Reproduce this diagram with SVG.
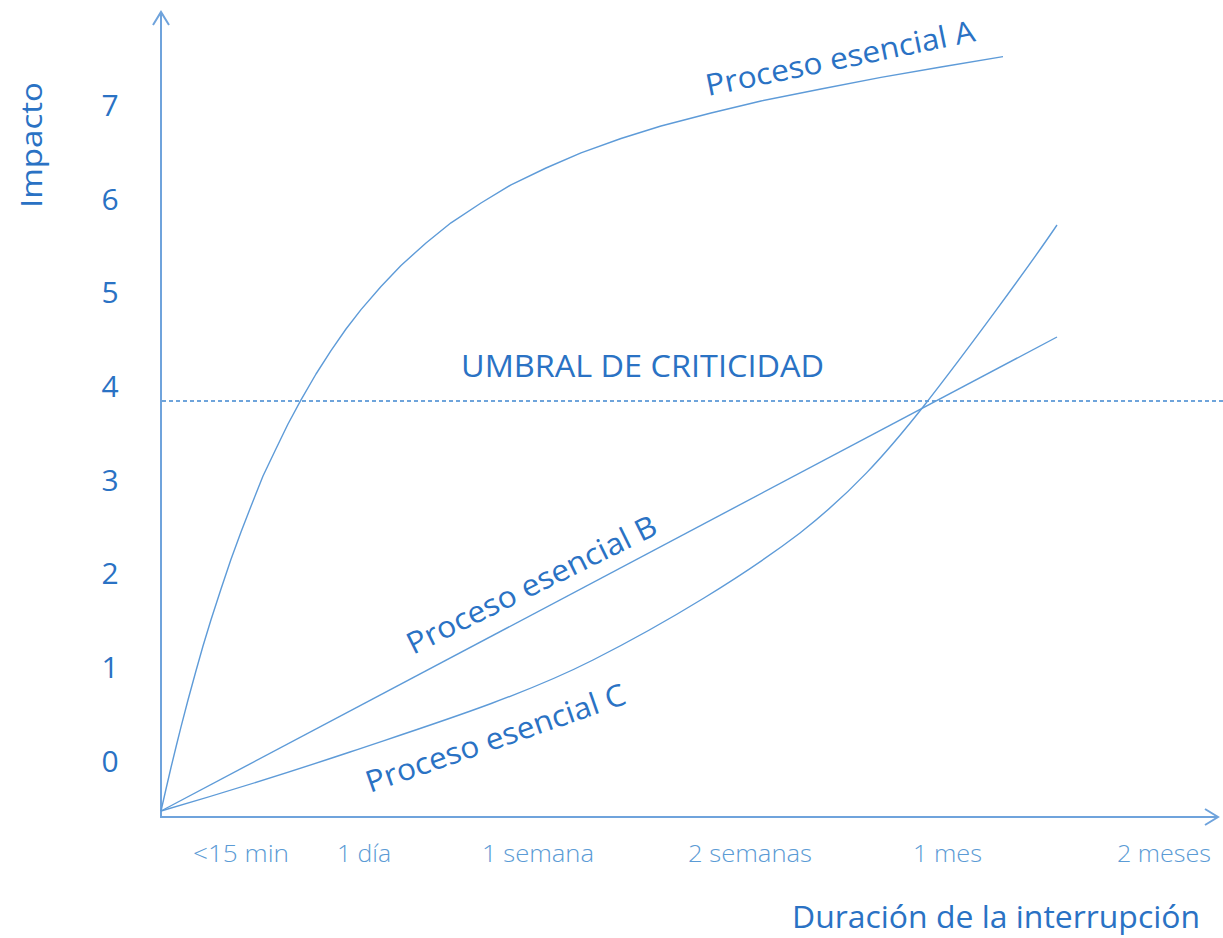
<svg xmlns="http://www.w3.org/2000/svg" width="1223" height="938" viewBox="0 0 1223 938">
<style>
.axis{fill:none;stroke:#6FA3DC;stroke-width:2;}
.curve{fill:none;stroke:#5E9BD8;stroke-width:1.4;stroke-linejoin:round;}
.thr{fill:none;stroke:#3F86D0;stroke-width:1.3;stroke-dasharray:4 3;}
.lbl{font-family:"Open Sans","Noto Sans","Liberation Sans",sans-serif;fill:#2A72C4;}
.num{font-family:"Open Sans","Noto Sans","Liberation Sans",sans-serif;fill:#2A72C4;font-size:30px;text-anchor:middle;}
.tick{font-family:"Open Sans","Noto Sans","Liberation Sans",sans-serif;fill:#5B9BD5;font-size:24px;font-weight:300;}
</style>
<rect width="1223" height="938" fill="#ffffff"/>
<g id="axes">
<path class="axis" d="M161,818 V12 M153,25 L161,12 L169,25"/>
<path class="axis" d="M161,817 H1218 M1205,809 L1218,817 L1205,825"/>
</g>
<g id="connectors">
<path class="thr" d="M162,401 H1223"/>
<path id="curveA" class="curve" d="M161,811 L166,789 L171,767.5 L176,747 L181,726.8 L188,700 L196,670.7 L203,646 L211,619.8 L221,589 L231,559.3 L241,532 L251,506.2 L263,476 L276,448.8 L288,424 L301,399.9 L316,374 L331,350.6 L346,329 L361,309.6 L381,286.5 L401,265.4 L426,243 L451,222.8 L481,203 L511,184.8 L546,168 L581,152.8 L621,138.5 L661,126 L711,113 L761,101 L821,89 L881,77.4 L941,67 L1003,56.6"/>
<path id="curveB" class="curve" d="M161,811 L1057,337"/>
<path id="curveC" class="curve" d="M161,811 C230,791 290,772 350,752 C430,725 520,697 593,660 C668,622 745,575 800,533 C852,492 885,455 923,407 C966,352 1030,265 1057,225"/>
</g>
<g id="y-labels">
<text class="num" x="110" y="116">7</text>
<text class="num" x="110" y="210">6</text>
<text class="num" x="110" y="303">5</text>
<text class="num" x="110" y="397">4</text>
<text class="num" x="110" y="491">3</text>
<text class="num" x="110" y="584">2</text>
<text class="num" x="110" y="678">1</text>
<text class="num" x="110" y="772">0</text>
</g>
<g id="y-title">
<text class="lbl" font-size="30" text-anchor="middle" transform="translate(42,145) rotate(-90)" textLength="126" lengthAdjust="spacingAndGlyphs">Impacto</text>
</g>
<g id="x-labels">
<text class="tick" x="193" y="862" textLength="96" lengthAdjust="spacingAndGlyphs">&lt;15 min</text>
<text class="tick" x="337" y="862" textLength="54" lengthAdjust="spacingAndGlyphs">1 día</text>
<text class="tick" x="482" y="862" textLength="112" lengthAdjust="spacingAndGlyphs">1 semana</text>
<text class="tick" x="688" y="862" textLength="124" lengthAdjust="spacingAndGlyphs">2 semanas</text>
<text class="tick" x="913" y="862" textLength="69" lengthAdjust="spacingAndGlyphs">1 mes</text>
<text class="tick" x="1117" y="862" textLength="94" lengthAdjust="spacingAndGlyphs">2 meses</text>
</g>
<g id="x-title">
<text class="lbl" font-size="31" x="792" y="928" textLength="408" lengthAdjust="spacingAndGlyphs">Duración de la interrupción</text>
</g>
<g id="threshold-label">
<text class="lbl" font-size="31" x="461" y="377" textLength="363" lengthAdjust="spacingAndGlyphs">UMBRAL DE CRITICIDAD</text>
</g>
<g id="label-A">
<text class="lbl" font-size="30" transform="translate(708,96) rotate(-11.6)" textLength="274" lengthAdjust="spacingAndGlyphs">Proceso esencial A</text>
</g>
<g id="label-B">
<text class="lbl" font-size="30" transform="translate(413,655) rotate(-26.3)" textLength="275" lengthAdjust="spacingAndGlyphs">Proceso esencial B</text>
</g>
<g id="label-C">
<text class="lbl" font-size="30" transform="translate(370,793) rotate(-19.2)" textLength="273" lengthAdjust="spacingAndGlyphs">Proceso esencial C</text>
</g>
</svg>
